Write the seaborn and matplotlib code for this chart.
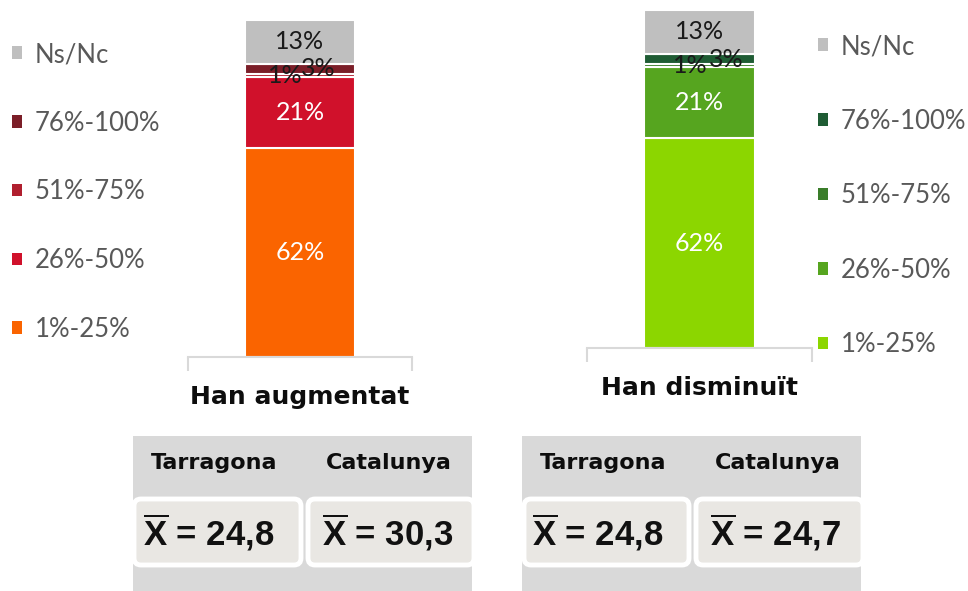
import matplotlib
matplotlib.use("Agg")
import matplotlib.pyplot as plt
import seaborn as sns
from matplotlib.patches import Patch, Rectangle, FancyBboxPatch

# data
categories = ["1%-25%", "26%-50%", "51%-75%", "76%-100%", "Ns/Nc"]
augmentat_values = [62, 21, 1, 3, 13]
disminuit_values = [62, 21, 1, 3, 13]
augmentat_colors = ["#FA6400", "#D0112B", "#B01F2E", "#7B1E28", "#BFBFBF"]
disminuit_colors = ["#8CD600", "#56A51F", "#3A7D2A", "#1F5C34", "#BFBFBF"]
label_colors = ["white", "white", "#1a1a1a", "#1a1a1a", "#1a1a1a"]

regions = ["Tarragona", "Catalunya"]
mean_augmentat = [24.8, 30.3]
mean_disminuit = [24.8, 24.7]

sns.set_style("white")
plt.rcParams["font.family"] = ["Lato", "DejaVu Sans"]
plt.rcParams["mathtext.fontset"] = "custom"
plt.rcParams["mathtext.bf"] = "Liberation Sans:bold"
plt.rcParams["mathtext.rm"] = "Liberation Sans"

W, H = 968, 591
fig = plt.figure(figsize=(W / 100, H / 100), dpi=100)

# background axes in pixel coordinates for the summary panels
bg = fig.add_axes([0, 0, 1, 1], zorder=0)
bg.set_xlim(0, W)
bg.set_ylim(H, 0)
bg.axis("off")


def px_axes(x0, y0, x1, y1):
    # y0 = top pixel, y1 = bottom pixel
    return fig.add_axes([x0 / W, 1 - y1 / H, (x1 - x0) / W, (y1 - y0) / H], zorder=2)


def stacked_bar(ax, title, values, colors, shifts):
    bottom = 0
    for cat, val, col, lc, sh in zip(categories, values, colors, label_colors, shifts):
        sns.barplot(x=[title], y=[val], bottom=bottom, color=col, saturation=1,
                    width=0.49, edgecolor="white", linewidth=1.5, ax=ax)
        ax.text(sh, bottom + val / 2, f"{val}%", ha="center", va="center",
                color=lc, fontsize=18)
        bottom += val
    ax.set_xlim(-0.5, 0.5)
    ax.set_ylim(0, 100)
    ax.set_ylabel("")
    ax.set_yticks([])
    for s in ["top", "left", "right"]:
        ax.spines[s].set_visible(False)
    ax.spines["bottom"].set_color("#d9d9d9")
    ax.spines["bottom"].set_linewidth(1.5)
    ax.set_xticks([0])
    ax.set_xticklabels([title], fontsize=18, fontweight="bold",
                       family=["DejaVu Sans"], color="#0d0d0d")
    ax.tick_params(axis="x", which="major", length=0, pad=20)
    ax.set_xticks([-0.5, 0.5], minor=True)
    ax.tick_params(axis="x", which="minor", bottom=True, length=10, width=1.5,
                   color="#d9d9d9", direction="out")
    ax.patch.set_alpha(0)


def legend(colors, x, y, spacing):
    handles = [Patch(facecolor=c, edgecolor="none", label=l)
               for c, l in zip(colors, categories)][::-1]
    fig.legend(handles=handles, loc="upper left",
               bbox_to_anchor=(x / W, 1 - y / H), frameon=False,
               fontsize=18.5, labelcolor="#595959", handlelength=0.38,
               handleheight=0.38, handletextpad=0.5, labelspacing=spacing,
               borderpad=0, borderaxespad=0)


def panel(x0, x1, means, header_x, box_spans, value_x):
    bg.add_patch(Rectangle((x0, 436), x1 - x0, H - 436, facecolor="#D9D9D9",
                           edgecolor="none"))
    for name, hx in zip(regions, header_x):
        bg.text(hx, 463, name, ha="center", va="center", fontsize=16,
                fontweight="bold", family=["DejaVu Sans"], color="#0d0d0d")
    for (bx0, bx1), m, vx in zip(box_spans, means, value_x):
        bg.add_patch(FancyBboxPatch((bx0, 499), bx1 - bx0, 66,
                                    boxstyle="round,pad=0,rounding_size=7",
                                    facecolor="#E9E7E3", edgecolor="white",
                                    linewidth=3.5))
        txt = f"{m:.1f}".replace(".", ",")
        bg.text(vx, 532, r"$\overline{\mathbf{X}}$" + f" = {txt}", ha="center",
                va="center", fontsize=25, fontweight="bold",
                family=["Liberation Sans"], color="#111111")


ax1 = px_axes(188, 20, 412, 357)
stacked_bar(ax1, "Han augmentat", augmentat_values, augmentat_colors,
            [0, 0, -0.067, 0.08, 0])
ax2 = px_axes(587, 10, 812, 348)
stacked_bar(ax2, "Han disminuït", disminuit_values, disminuit_colors,
            [0, 0, -0.04, 0.12, 0])

legend(augmentat_colors, 12, 42, 1.7)
legend(disminuit_colors, 818, 34, 1.93)

panel(133, 472, mean_augmentat, [214, 389], [(134, 301), (308, 474)], [209, 388])
panel(522, 861, mean_disminuit, [603, 778], [(524, 689), (696, 863)], [598, 775])

fig.savefig("out.png", dpi=100)
